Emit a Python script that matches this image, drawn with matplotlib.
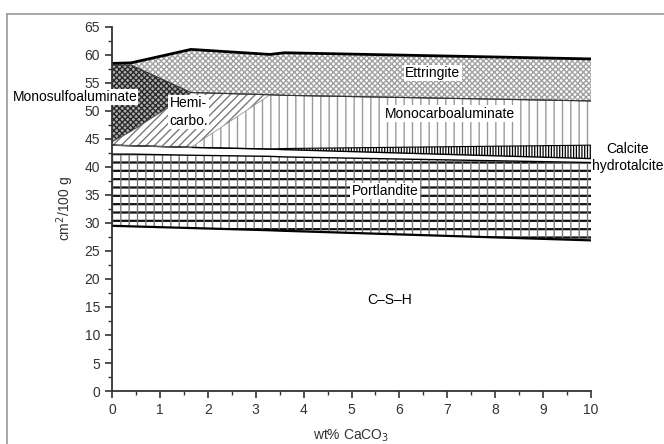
import numpy as np
import matplotlib
matplotlib.use("Agg")
import matplotlib.pyplot as plt
from matplotlib.lines import Line2D

plt.rcParams['font.family'] = ['Liberation Sans', 'DejaVu Sans']
plt.rcParams['font.size'] = 10

# phase volumes (cm2/100 g) against added limestone
caco3 = [0, 0.4, 1.65, 3.3, 3.6, 10]
csh = [29.5, 29.4, 29.1, 28.7, 28.6, 26.9]
portlandite = [12.8, 12.9, 13.0, 13.2, 13.2, 13.9]
hydrotalcite = [1.6, 1.5, 1.4, 1.3, 1.3, 0.7]
calcite = [0, 0, 0, 0, 0.2, 2.4]
monocarbo = [0, 0, 0, 9.7, 9.5, 7.9]
hemicarbo = [0.6, 2.6, 9.8, 0, 0, 0]
monosulfo = [13.7, 11.8, 0, 0, 0, 0]
ettringite = [0.3, 0.4, 7.7, 7.2, 7.6, 7.5]

x_ticks = np.arange(0, 11, 1)
y_ticks = np.arange(0, 66, 5)

layers = [csh, portlandite, hydrotalcite, calcite, monocarbo,
          hemicarbo, monosulfo, ettringite]
tops = np.cumsum(np.array(layers, dtype=float), axis=0)
bottoms = np.vstack([np.zeros(len(caco3)), tops[:-1]])

# (facecolor, hatch, hatch colour, hatch width) per phase
styles = [
    ('white', None, 'black', 0.8),
    ('white', '--', '#111111', 1.6),
    ('white', None, 'black', 0.8),
    ('white', '||||||', 'black', 0.9),
    ('white', '||', '#9a9a9a', 1.0),
    ('white', '////', '#7a7a7a', 1.0),
    ('#b0b0b0', 'xxxxxx', '#2a2a2a', 1.0),
    ('white', 'xxxxxx', '#a0a0a0', 1.0),
]

fig = plt.figure(figsize=(6.64, 4.44), dpi=100)
ax = fig.add_axes([112/664, 53/444, 479/664, 364/444])

for lo, hi, (fc, hatch, hc, hw) in zip(bottoms, tops, styles):
    coll = ax.fill_between(caco3, lo, hi, facecolor=fc, edgecolor=hc,
                           hatch=hatch, linewidth=0)
    if hasattr(coll, 'set_hatch_linewidth'):
        coll.set_hatch_linewidth(hw)

# thin grey verticals across the portlandite band
coll = ax.fill_between(caco3, bottoms[1], tops[1], facecolor=(1, 1, 1, 0),
                       edgecolor='#777777', hatch='||', linewidth=0)
if hasattr(coll, 'set_hatch_linewidth'):
    coll.set_hatch_linewidth(1.0)

# phase boundaries
line_w = [1.6, 1.0, 1.0, 0.8, 0.5, 0.8, 0.8, 2.0]
line_c = ['black', 'black', 'black', 'black', '#888888', '#555555', '#333333', 'black']
for hi, lw, lc in zip(tops, line_w, line_c):
    ax.plot(caco3, hi, color=lc, lw=lw, solid_capstyle='butt')

box = dict(facecolor='white', edgecolor='none', pad=1.0)
ax.text(6.7, 56.8, 'Ettringite', ha='center', va='center', bbox=box)
ax.text(7.06, 49.5, 'Monocarboaluminate', ha='center', va='center', bbox=box)
ax.text(-0.77, 52.5, 'Monosulfoaluminate', ha='center', va='center',
        bbox=dict(facecolor='white', edgecolor='none', pad=0.4), zorder=5)
ax.text(1.6, 49.8, 'Hemi-\ncarbo.', ha='center', va='center', bbox=box,
        linespacing=1.35)
ax.text(5.7, 35.7, 'Portlandite', ha='center', va='center', bbox=box)
ax.text(5.8, 16.3, 'C\u2013S\u2013H', ha='center', va='center')
ax.text(10.77, 43.2, 'Calcite', ha='center', va='center')
ax.text(10.77, 40.1, 'hydrotalcite', ha='center', va='center')

ax.set_xlim(0, 10)
ax.set_ylim(0, 65)
ax.set_xticks(x_ticks)
ax.set_yticks(y_ticks)
ax.set_xticks(np.arange(0.5, 10, 1), minor=True)
ax.set_yticks(np.arange(2.5, 65, 5), minor=True)
ax.tick_params(which='major', length=5, width=1.2, color='#333333', labelcolor='#333333')
ax.tick_params(which='minor', length=3, width=1.0, color='#333333')
for side in ['top', 'right']:
    ax.spines[side].set_visible(False)
for side in ['left', 'bottom']:
    ax.spines[side].set_linewidth(1.3)
    ax.spines[side].set_color('#333333')

ax.set_xlabel('wt% CaCO$_3$', color='#333333', labelpad=8)
ax.set_ylabel('cm$^2$/100 g', color='#333333', labelpad=6)

# frame around the figure panel
fig.add_artist(Line2D([7/664, 7/664], [0, 1 - 14/444], color='#9a9a9a', lw=1.2))
fig.add_artist(Line2D([7/664, 1], [1 - 14/444, 1 - 14/444], color='#9a9a9a', lw=1.2))

fig.savefig('out.png', dpi=100)
